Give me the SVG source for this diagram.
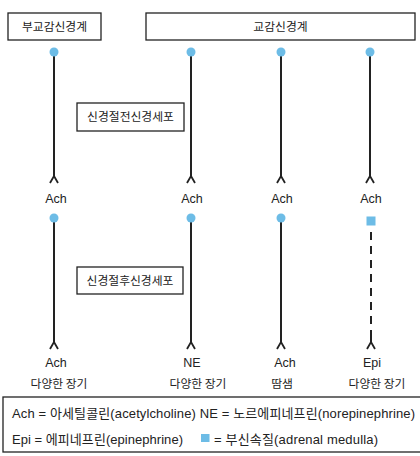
<svg xmlns="http://www.w3.org/2000/svg" width="420" height="456" viewBox="0 0 420 456">
<style>
.box{fill:#fff;stroke:#222;stroke-width:1.3}
.ax{fill:none;stroke:#222;stroke-width:2}
.dash{fill:none;stroke:#222;stroke-width:2;stroke-dasharray:8,6}
.dot{fill:#6dbce6}
.t{font-family:"Liberation Sans","Noto Sans CJK KR",sans-serif;font-size:12.5px;fill:#222;text-anchor:middle}
.k{font-family:"Noto Sans CJK KR","Liberation Sans",sans-serif;font-size:11.8px;fill:#222;text-anchor:middle}
.l{font-family:"Liberation Sans","Noto Sans CJK KR",sans-serif;font-size:13px;fill:#222}
</style>
<defs>
<path id="fork" d="M-4,7 L0,0 L4,7" fill="none" stroke="#222" stroke-width="1.8"/>
</defs>
<rect width="420" height="456" fill="#fff"/>
<g id="parasympathetic">
<rect class="box" x="8" y="13" width="93" height="27"/>
<text class="k" x="54.5" y="31">부교감신경계</text>
</g>
<g id="sympathetic">
<rect class="box" x="146" y="13" width="269" height="27"/>
<text class="k" x="280.5" y="31">교감신경계</text>
</g>
<g id="preganglionic">
<rect class="box" x="77" y="103" width="107" height="28"/>
<text class="k" x="130.5" y="121">신경절전신경세포</text>
</g>
<g id="postganglionic">
<rect class="box" x="77" y="267" width="106" height="27"/>
<text class="k" x="130" y="285">신경절후신경세포</text>
</g>
<g id="connectors">
<line class="ax" x1="54" y1="52" x2="54" y2="177"/>
<line class="ax" x1="191" y1="52" x2="191" y2="177"/>
<line class="ax" x1="281" y1="52" x2="281" y2="177"/>
<line class="ax" x1="370" y1="52" x2="370" y2="177"/>
<use href="#fork" x="54" y="176"/>
<use href="#fork" x="191" y="176"/>
<use href="#fork" x="281" y="176"/>
<use href="#fork" x="370" y="176"/>
<line class="ax" x1="54" y1="218" x2="54" y2="343"/>
<line class="ax" x1="191" y1="218" x2="191" y2="343"/>
<line class="ax" x1="281" y1="218" x2="281" y2="343"/>
<line class="dash" x1="371" y1="232" x2="371" y2="337"/>
<line class="ax" x1="371" y1="337" x2="371" y2="343"/>
<use href="#fork" x="54" y="342"/>
<use href="#fork" x="191" y="342"/>
<use href="#fork" x="281" y="342"/>
<use href="#fork" x="371" y="342"/>
<circle class="dot" cx="54" cy="52" r="4.5"/>
<circle class="dot" cx="191" cy="52" r="4.5"/>
<circle class="dot" cx="281" cy="52" r="4.5"/>
<circle class="dot" cx="370" cy="52" r="4.5"/>
<circle class="dot" cx="54" cy="218" r="4.5"/>
<circle class="dot" cx="191" cy="218" r="4.5"/>
<circle class="dot" cx="281" cy="218" r="4.5"/>
<rect class="dot" x="366.5" y="216.5" width="9" height="9"/>
</g>
<g id="labels">
<text class="t" x="56" y="203">Ach</text>
<text class="t" x="192" y="203">Ach</text>
<text class="t" x="282" y="203">Ach</text>
<text class="t" x="371" y="203">Ach</text>
<text class="t" x="56" y="367">Ach</text>
<text class="t" x="192" y="367">NE</text>
<text class="t" x="285" y="367">Ach</text>
<text class="t" x="372" y="367">Epi</text>
<text class="k" x="59" y="388">다양한 장기</text>
<text class="k" x="198" y="388">다양한 장기</text>
<text class="k" x="282" y="388">땀샘</text>
<text class="k" x="377" y="388">다양한 장기</text>
</g>
<g id="legend">
<rect class="box" x="3" y="397" width="419" height="55"/>
<text class="l" x="12" y="418" textLength="403" lengthAdjust="spacing">Ach = 아세틸콜린(acetylcholine) NE = 노르에피네프린(norepinephrine)</text>
<text class="l" x="12" y="444" textLength="171" lengthAdjust="spacing">Epi = 에피네프린(epinephrine)</text>
<rect class="dot" x="201" y="434" width="8.5" height="8"/>
<text class="l" x="214" y="444" textLength="164" lengthAdjust="spacing">= 부신속질(adrenal medulla)</text>
</g>
</svg>
